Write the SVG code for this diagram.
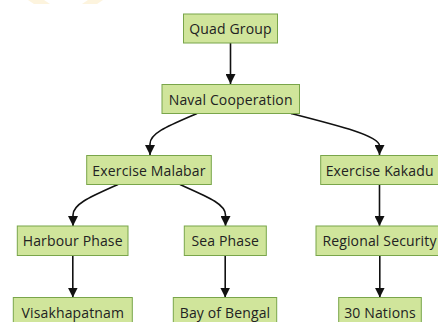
<svg xmlns="http://www.w3.org/2000/svg" width="438" height="322" viewBox="0 0 438 322">
  <defs>
    <style>
      .node rect { fill: #d0e59b; stroke: #79a54a; stroke-width: 1; }
      .node text { font-family: "Open Sans", "Noto Sans", sans-serif; font-size: 14px; letter-spacing: 0.15px; fill: #222222; text-anchor: middle; dominant-baseline: central; }
      .edges path { fill: none; stroke: #111111; stroke-width: 1.6; }
      .mark { fill: #f9d27a; opacity: 0.25; }
    </style>
    <marker id="arrow" viewBox="0 0 10 10" refX="10" refY="5" markerWidth="10" markerHeight="10" markerUnits="userSpaceOnUse" orient="auto">
      <path d="M0,0 L10,5 L0,10 Z" fill="#111111"/>
    </marker>
  </defs>

  <rect width="438" height="322" fill="#ffffff"/>

  <!-- faint logo shapes along the top edge -->
  <polygon class="mark" points="28,0 44,0 50,4 34,4"/>
  <polygon class="mark" points="88,0 103,0 97,4 82,4"/>

  <g class="edges">
    <path d="M230.5,43 L230.5,84" marker-end="url(#arrow)"/>
    <path d="M197,113.5 C168,126 150,133 150,144 L150,155" marker-end="url(#arrow)"/>
    <path d="M291,113.5 C340,126 379.5,136 379.5,146 L379.5,155" marker-end="url(#arrow)"/>
    <path d="M118,184.5 C90,197 73,204 73,215 L73,226" marker-end="url(#arrow)"/>
    <path d="M180,184.5 C208,197 225.5,204 225.5,215 L225.5,226" marker-end="url(#arrow)"/>
    <path d="M379.5,184.5 L379.5,226" marker-end="url(#arrow)"/>
    <path d="M72.8,255.5 L72.8,297.5" marker-end="url(#arrow)"/>
    <path d="M225.2,255.5 L225.2,297.5" marker-end="url(#arrow)"/>
    <path d="M379.8,255.5 L379.8,297.5" marker-end="url(#arrow)"/>
  </g>

  <g id="quad-group" class="node">
    <rect x="183.5" y="14" width="94" height="29"/>
    <text x="230.5" y="28.5">Quad Group</text>
  </g>
  <g id="naval-cooperation" class="node">
    <rect x="162" y="84.5" width="137.5" height="29"/>
    <text x="230.7" y="99">Naval Cooperation</text>
  </g>
  <g id="exercise-malabar" class="node">
    <rect x="86.7" y="155.5" width="124.6" height="29"/>
    <text x="149" y="170">Exercise Malabar</text>
  </g>
  <g id="exercise-kakadu" class="node">
    <rect x="320.7" y="155.5" width="118" height="29"/>
    <text x="379.7" y="170">Exercise Kakadu</text>
  </g>
  <g id="harbour-phase" class="node">
    <rect x="17.3" y="226" width="110.7" height="29.5"/>
    <text x="72.7" y="240.8">Harbour Phase</text>
  </g>
  <g id="sea-phase" class="node">
    <rect x="184.3" y="226" width="82" height="29.5"/>
    <text x="225.3" y="240.8">Sea Phase</text>
  </g>
  <g id="regional-security" class="node">
    <rect x="316" y="226" width="127" height="29.5"/>
    <text x="379.5" y="240.8">Regional Security</text>
  </g>
  <g id="visakhapatnam" class="node">
    <rect x="13.3" y="297.5" width="119" height="29"/>
    <text x="72.8" y="312">Visakhapatnam</text>
  </g>
  <g id="bay-of-bengal" class="node">
    <rect x="173.3" y="297.5" width="103.4" height="29"/>
    <text x="225" y="312">Bay of Bengal</text>
  </g>
  <g id="thirty-nations" class="node">
    <rect x="338.7" y="297.5" width="82.6" height="29"/>
    <text x="380" y="312">30 Nations</text>
  </g>
</svg>
